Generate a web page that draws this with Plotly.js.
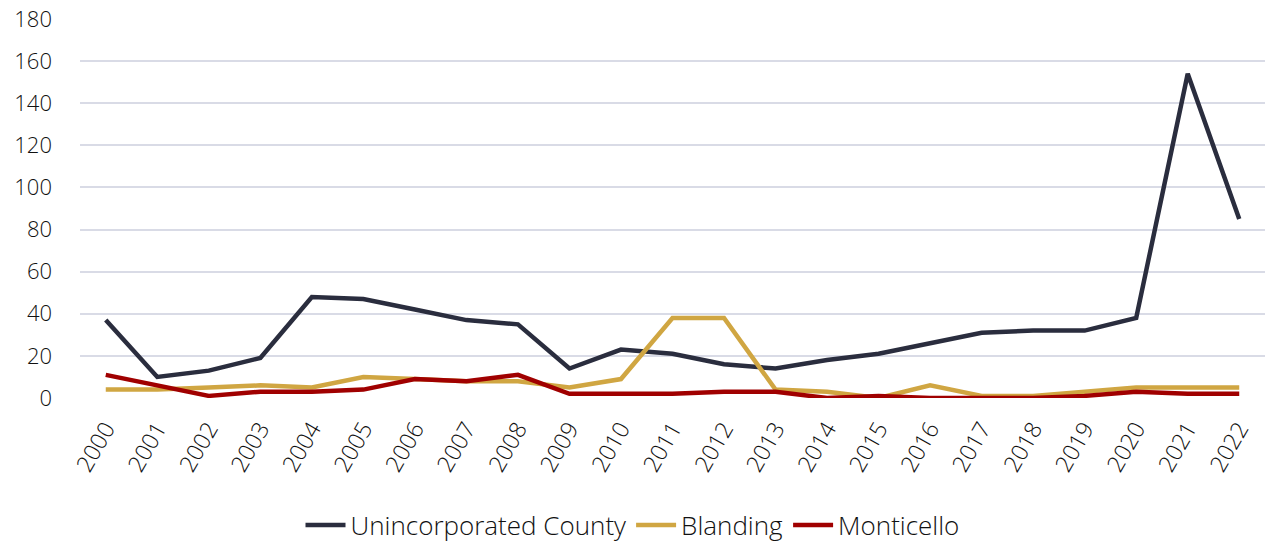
<!DOCTYPE html>
<html>
<head>
<meta charset="utf-8">
<script src="https://cdn.plot.ly/plotly-3.0.1.min.js"></script>
<style>html,body{margin:0;padding:0;background:#fff;}#chart{width:1265px;height:542px;}</style>
</head>
<body>
<div id="chart"></div>
<script>
const years = ["2000","2001","2002","2003","2004","2005","2006","2007","2008","2009","2010","2011","2012","2013","2014","2015","2016","2017","2018","2019","2020","2021","2022"];
const unincorporated = [37,10,13,19,48,47,42,37,35,14,23,21,16,14,18,21,26,31,32,32,38,154,85];
const blanding = [4,4,5,6,5,10,9,8,8,5,9,38,38,4,3,0,6,1,1,3,5,5,5];
const monticello = [11,6,1,3,3,4,9,8,11,2,2,2,3,3,0,1,0,0,0,1,3,2,2];
const yTicks = [0,20,40,60,80,100,120,140,160,180];

const font = "'Open Sans', sans-serif";
function tr(name, y, color) {
  return {x: years, y: y, name: name, type: "scatter", mode: "lines",
    line: {color: color, width: 4.5}};
}
const data = [
  tr("Unincorporated County", unincorporated, "#2a2d3e"),
  tr("Blanding", blanding, "#d0a642"),
  tr("Monticello", monticello, "#a00000")
];
const layout = {
  width: 1265, height: 542,
  margin: {l: 80, r: 0, t: 19, b: 144},
  paper_bgcolor: "#fff", plot_bgcolor: "#fff",
  font: {family: font, size: 21, color: "#111", weight: 300},
  xaxis: {type: "category", range: [-0.5, 22.5], tickangle: -60, showgrid: false, automargin: false,
    showline: false, zeroline: false, ticks: "", ticklabelstandoff: 12,
    tickfont: {size: 23, color: "#111", weight: 300}},
  yaxis: {range: [0, 180], tickvals: yTicks, showgrid: true, gridcolor: "#d9dbe6", gridwidth: 1.5, automargin: false,
    zeroline: false, showline: false, ticks: "", ticklabelstandoff: 27,
    tickfont: {size: 22, color: "#111", weight: 300}},
  showlegend: true,
  legend: {orientation: "h", x: 0.5, xanchor: "center", xref: "container",
    y: 0.031, yanchor: "middle", yref: "container",
    font: {size: 26, color: "#111", weight: 300}, itemwidth: 40, traceorder: "normal"}
};
Plotly.newPlot("chart", data, layout, {displayModeBar: false});
</script>
</body>
</html>
